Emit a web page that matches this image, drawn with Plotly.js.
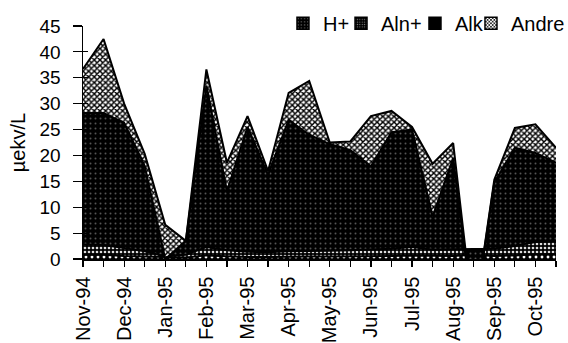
<!DOCTYPE html>
<html>
<head>
<meta charset="utf-8">
<script src="https://cdn.plot.ly/plotly-3.0.1.min.js"></script>
<style>
  html, body { margin: 0; padding: 0; background: #fff; }
  #chart { width: 568px; height: 343px; }
</style>
</head>
<body>
<div id="chart"></div>
<script>
// Sampling points (two per month), Nov-94 .. Oct-95
const sampleIdx = [0,1,2,3,4,5,6,7,8,9,10,11,12,13,14,15,16,17,18,19,20,21,22,23];
const tickLabels = ['Nov-94','','Dec-94','','Jan-95','','Feb-95','','Mar-95','','Apr-95','',
                    'May-95','','Jun-95','','Jul-95','','Aug-95','','Sep-95','','Oct-95',''];

// Series values (µekv/L), stacked in this order
const hPlus  = [0.8,0.8,0.6,0.5,0.3,0.3,0.7,0.5,0.4,0.4,0.5,0.5,0.5,0.5,0.5,0.6,0.7,0.6,0.6,0.8,0.6,0.7,0.9,0.9];
const alnPlus= [2.0,1.9,1.5,1.0,0.2,0.5,1.6,1.2,1.0,0.9,1.0,1.0,1.1,1.2,1.3,1.4,1.6,1.2,1.3,1.2,1.4,1.8,2.4,2.6];
const alk    = [25.4,25.5,24.2,16.5,-0.5,2.7,31.2,11.4,24.1,15.0,25.4,22.5,20.6,19.3,16.1,22.5,22.7,6.4,17.6,-14.0,12.8,19.0,17.2,15.1];
const andre  = [8.5,14.3,3.7,2.3,6.6,0.0,3.1,5.5,2.1,0.7,5.2,10.4,0.3,1.7,9.7,4.1,0.5,10.2,2.9,0.0,0.5,3.8,5.5,2.9];

const seriesNames = ['H+','Aln+','Alk','Andre'];
const seriesVals = [hPlus, alnPlus, alk, andre];

const patterns = [
  {shape: '.', bgcolor: '#000', fgcolor: '#fff', size: 6, solidity: 0.18},
  {shape: '.', bgcolor: '#000', fgcolor: '#ddd', size: 4, solidity: 0.35},
  {shape: '.', bgcolor: '#000', fgcolor: '#555', size: 5, solidity: 0.12},
  {shape: 'x', bgcolor: '#fff', fgcolor: '#000', size: 4, solidity: 0.6}
];
const swatchPatterns = [
  {shape: '.', bgcolor: '#000', fgcolor: '#999', size: 4, solidity: 0.12},
  {shape: '.', bgcolor: '#000', fgcolor: '#888', size: 3, solidity: 0.2},
  {shape: '', bgcolor: '#000', fgcolor: '#000', size: 4, solidity: 0.1},
  {shape: 'x', bgcolor: '#fff', fgcolor: '#000', size: 3, solidity: 0.5}
];

const legendIds = ['legend', 'legend2', 'legend3', 'legend4'];
const legendX = [0.4982, 0.6004, 0.7306, 0.8292];

const traces = [];
seriesVals.forEach((vals, k) => {
  traces.push({
    type: 'scatter',
    mode: 'lines',
    x: sampleIdx,
    y: vals,
    name: seriesNames[k],
    stackgroup: 'one',
    line: {color: '#000', width: 2},
    fillcolor: patterns[k].bgcolor,
    fillpattern: patterns[k],
    showlegend: false,
    hoverinfo: 'skip'
  });
});
// legend swatches (square pattern symbols); bars sit outside the x range
seriesNames.forEach((nm, k) => {
  traces.push({
    type: 'bar',
    x: [-50], y: [1],
    name: nm,
    legend: legendIds[k],
    marker: {color: swatchPatterns[k].bgcolor, line: {color: '#000', width: 1.5}, pattern: swatchPatterns[k]},
    showlegend: true,
    hoverinfo: 'skip'
  });
});

const fontFam = '"Liberation Sans", Arial, Helvetica, sans-serif';

const layout = {
  width: 568, height: 343,
  margin: {l: 83, r: 12, t: 26, b: 84, pad: 0, autoexpand: false},
  paper_bgcolor: '#fff',
  plot_bgcolor: '#fff',
  font: {family: fontFam, size: 19, color: '#000'},
  showlegend: true,
  xaxis: {
    range: [0, 23],
    tickmode: 'array',
    tickvals: sampleIdx,
    ticktext: tickLabels,
    tickangle: -90,
    ticks: 'outside',
    ticklen: 6,
    tickwidth: 1.2,
    tickcolor: '#000',
    showline: true,
    linecolor: '#000',
    linewidth: 1.5,
    showgrid: false,
    zeroline: false,
    tickfont: {family: fontFam, size: 20, color: '#000'},
    ticklabelstandoff: 2
  },
  yaxis: {
    range: [0, 45],
    tickmode: 'linear',
    tick0: 0, dtick: 5,
    ticks: 'outside',
    ticklen: 9,
    tickwidth: 1.2,
    tickcolor: '#000',
    showline: true,
    linecolor: '#000',
    linewidth: 1.5,
    showgrid: false,
    zeroline: false,
    tickfont: {family: fontFam, size: 19, color: '#000'},
    ticklabelstandoff: 8,
    title: {text: 'µekv/L', font: {family: fontFam, size: 20, color: '#000'}, standoff: 8}
  },
  yaxis2: {
    overlaying: 'y',
    side: 'left',
    range: [0, 45],
    tickmode: 'linear',
    tick0: 0, dtick: 5,
    ticks: 'inside',
    ticklen: 5,
    tickwidth: 1.2,
    tickcolor: '#000',
    showticklabels: false,
    showline: false,
    showgrid: false,
    zeroline: false
  }
};

legendIds.forEach((id, k) => {
  layout[id] = {
    orientation: 'h',
    xref: 'container', yref: 'container',
    x: legendX[k], xanchor: 'left',
    y: 0.932, yanchor: 'middle',
    bgcolor: 'rgba(0,0,0,0)',
    borderwidth: 0,
    font: {family: fontFam, size: 20, color: '#000'},
    itemwidth: 30
  };
});

// dummy trace to activate yaxis2 tick marks
traces.push({type: 'scatter', x: [], y: [], yaxis: 'y2', showlegend: false, hoverinfo: 'skip'});

Plotly.newPlot('chart', traces, layout, {staticPlot: true, displayModeBar: false});
</script>
</body>
</html>
